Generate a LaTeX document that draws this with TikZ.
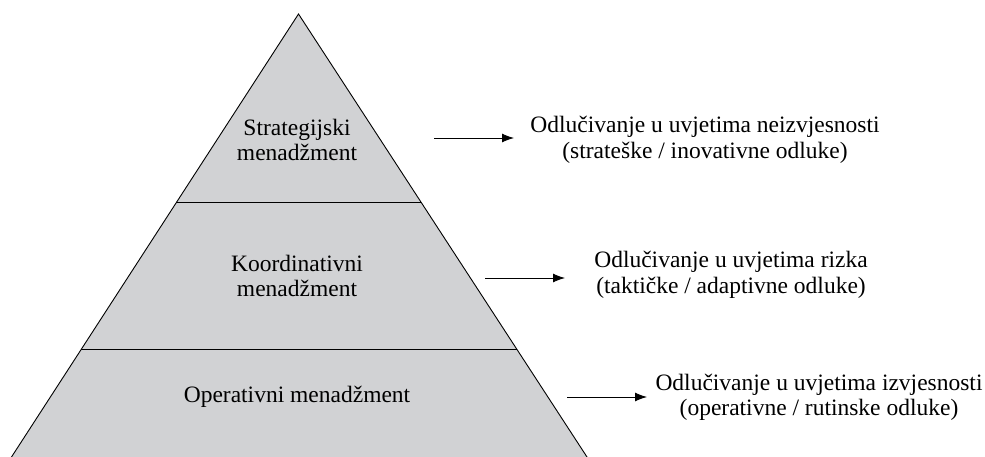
\documentclass[tikz,border=0pt]{standalone}
\usepackage{fontspec}
\setmainfont{Liberation Serif}
\usetikzlibrary{calc,arrows.meta}
\definecolor{pyrgray}{HTML}{D1D2D4}
\tikzset{
  edge/.style={draw=black, line width=0.9pt},
  lvl/.style={align=center, font=\fontsize{23.5}{25.5}\selectfont, inner sep=0pt},
  desc/.style={align=center, font=\fontsize{23.5}{25.5}\selectfont, inner sep=0pt},
  arr/.style={line width=0.9pt, -{Latex[length=12pt,width=9pt]}}
}
\begin{document}
\begin{tikzpicture}[x=1pt,y=-1pt]
\useasboundingbox (0,0) rectangle (985,457);
\coordinate (apex) at (298.5,14);
\coordinate (bl) at (11.5,457);
\coordinate (br) at (587,457);
\coordinate (d1l) at ($(apex)!0.4244!(bl)$);
\coordinate (d1r) at ($(apex)!0.4244!(br)$);
\coordinate (d2l) at ($(apex)!0.7562!(bl)$);
\coordinate (d2r) at ($(apex)!0.7562!(br)$);
\begin{scope}
\clip (0,0) rectangle (985,457);
\fill[pyrgray] (apex) -- ($(apex)!1.02!(bl)$) -- ($(apex)!1.02!(br)$) -- cycle;
\draw[edge] ($(apex)!1.02!(bl)$) -- (apex) -- ($(apex)!1.02!(br)$);
\draw[edge] (d1l) -- (d1r);
\draw[edge] (d2l) -- (d2r);
\end{scope}
\node[lvl] (l1) at (297,140) {Strategijski\\menadžment};
\node[lvl] (l2) at (297,276) {Koordinativni\\menadžment};
\node[lvl] (l3) at (297,397) {Operativni menadžment};
\node[desc] (t1) at (705,140) {Odlučivanje u uvjetima neizvjesnosti\\(strateške / inovativne odluke)};
\node[desc] (t2) at (731,275) {Odlučivanje u uvjetima rizka\\(taktičke / adaptivne odluke)};
\node[desc] (t3) at (819,397.5) {Odlučivanje u uvjetima izvjesnosti\\(operativne / rutinske odluke)};
\coordinate (a1s) at (434,138);
\coordinate (a1e) at (514,138);
\coordinate (a2s) at (485,278);
\coordinate (a2e) at (565,278);
\coordinate (a3s) at (567,397);
\coordinate (a3e) at (647,397);
\draw[arr] (a1s) -- (a1e);
\draw[arr] (a2s) -- (a2e);
\draw[arr] (a3s) -- (a3e);
\end{tikzpicture}
\end{document}
